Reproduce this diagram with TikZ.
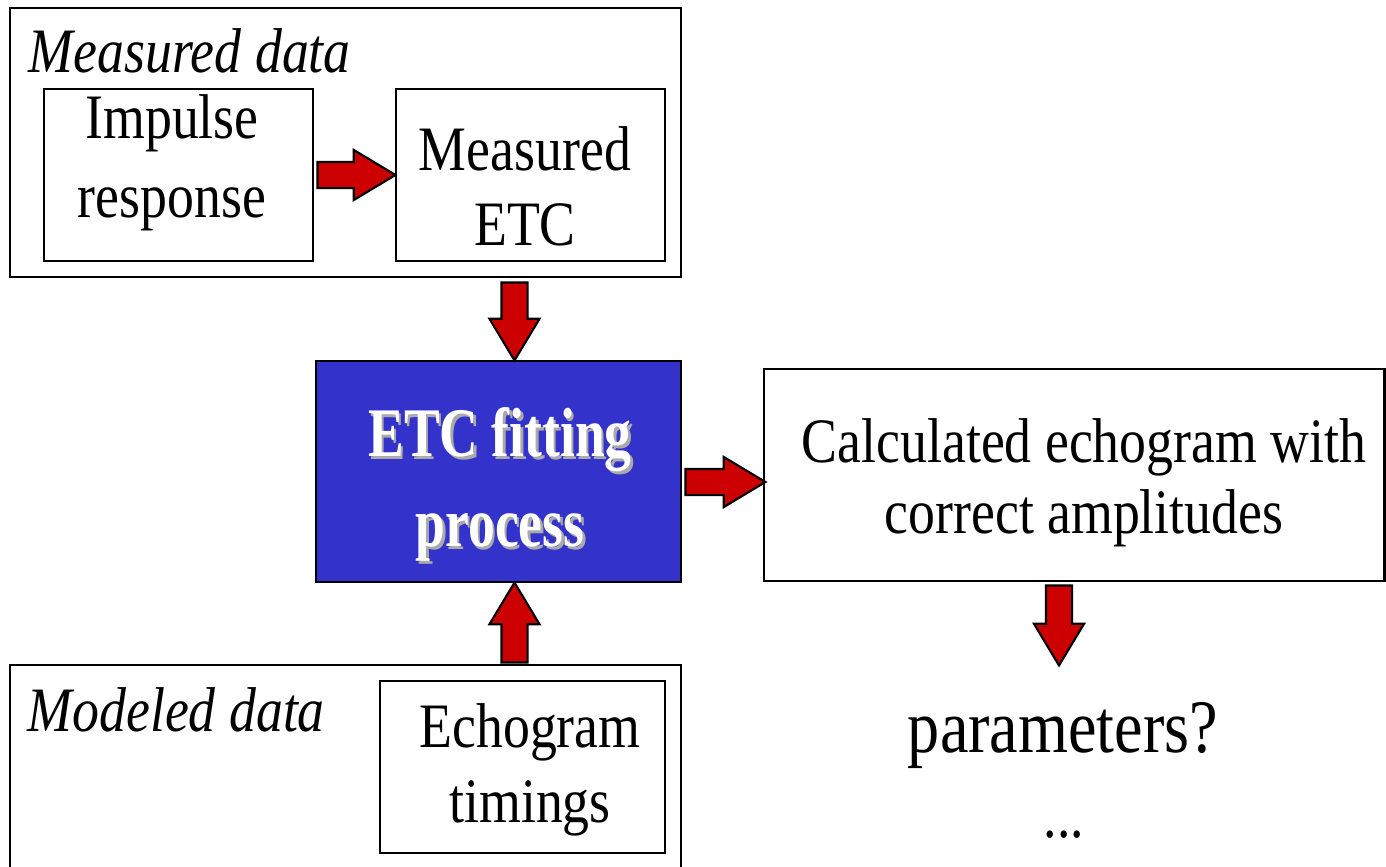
\documentclass[tikz,border=0pt]{standalone}
\usepackage{fontspec}
\setmainfont{Liberation Serif}[FakeStretch=0.85]
\newfontfamily\fitfont{Liberation Serif}[FakeStretch=0.77]
\usetikzlibrary{shapes.arrows,calc}
\definecolor{arrowred}{RGB}{204,0,0}
\definecolor{fitblue}{RGB}{51,51,204}
\definecolor{shadowgray}{RGB}{170,170,170}

\begin{document}
\begin{tikzpicture}[
      box/.style={
         draw=black,
         line width=0.8pt,
         inner sep=0pt},
      txt/.style={
         font=\fontsize{18}{21.3}\selectfont,
         align=center,
         inner sep=0pt},
      fittxt/.style={
         font=\fitfont\bfseries\fontsize{19.8}{25.6}\selectfont,
         align=center,
         inner sep=0pt},
      bigarrow/.style={
         single arrow,
         draw=black,
         line width=0.6pt,
         fill=arrowred,
         minimum height=#1,
         minimum width=0.48cm,
         single arrow head extend=0.12cm,
         single arrow tip angle=62,
         single arrow head indent=0pt,
         inner xsep=0pt,
         inner ysep=0.12cm,
         pos=0,
         anchor=tail}
      ]
      \useasboundingbox (0,0) rectangle (13.86,-8.66);

      % measured data
      \node[box, minimum width=6.71cm, minimum height=2.69cm] (measbox) at (3.455,-1.425) {};
      \node[txt, font=\fontsize{18}{21.3}\selectfont\itshape, anchor=base west] (measlbl) at (0.28,-0.72) {Measured data};
      \node[box, minimum width=2.69cm, minimum height=1.72cm] (imp) at (1.785,-1.75) {};
      \node[box, minimum width=2.69cm, minimum height=1.72cm] (metc) at (5.305,-1.75) {};
      \node[txt, font=\fontsize{18}{22.5}\selectfont] (impt) at (1.72,-1.63) {Impulse\\response};
      \node[txt] (metct) at (5.25,-1.86) {Measured\\ETC};

      % fitting
      \node[box, fill=fitblue, minimum width=3.65cm, minimum height=2.21cm] (fit) at (4.985,-4.715) {};
      \node[fittxt, text=shadowgray] (fitshadow) at (5.025,-4.87) {ETC fitting\\process};
      \node[fittxt, text=white] (fitt) at (5.00,-4.84) {ETC fitting\\process};

      % result
      \node[box, minimum width=6.205cm, minimum height=2.12cm] (calc) at (10.7425,-4.75) {};
      \node[txt, font=\fontsize{18}{20.2}\selectfont] (calct) at (10.84,-4.83) {Calculated echogram with\\correct amplitudes};
      \node[txt, font=\fontsize{21.5}{25}\selectfont, anchor=base] (params) at (10.63,-7.52) {parameters?};
      \node[txt, anchor=base] (dots) at (10.64,-8.37) {...};
      \coordinate (pend) at (10.59,-6.65);

      % modeled data
      \node[box, minimum width=6.71cm, minimum height=2.35cm] (modbox) at (3.455,-7.825) {};
      \node[txt, font=\fontsize{18}{21.3}\selectfont\itshape, anchor=base west] (modlbl) at (0.27,-7.31) {Modeled data};
      \node[box, minimum width=2.85cm, minimum height=1.72cm] (timing) at (5.225,-7.67) {};
      \node[txt] (timingt) at (5.30,-7.70) {Echogram\\timings};

      % block arrows
      \path ([xshift=0.02cm]imp.east) -- node[bigarrow=0.78cm] (a1) {} (metc.west);
      \path ([yshift=-0.03cm]5.145,0 |- measbox.south) -- node[bigarrow=0.78cm, rotate=-90] (a2) {} (5.145,0 |- fit.north);
      \path ([xshift=0.02cm]fit.east |- 0,-4.82) -- node[bigarrow=0.80cm] (a3) {} (calc.west |- 0,-4.82);
      \path (5.145,0 |- modbox.north) -- node[bigarrow=0.80cm, rotate=90] (a4) {} (5.145,0 |- fit.south);
      \path ([yshift=-0.02cm]10.59,0 |- calc.south) -- node[bigarrow=0.80cm, rotate=-90] (a5) {} (pend);
\end{tikzpicture}
\end{document}
